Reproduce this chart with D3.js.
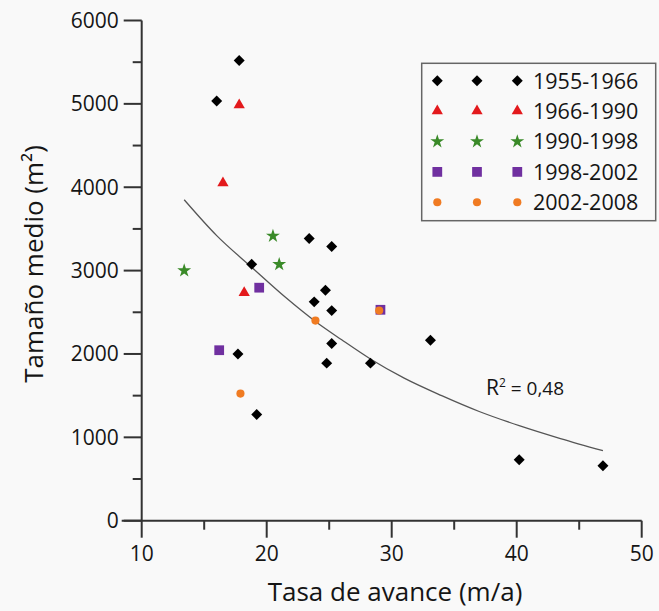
<!DOCTYPE html>
<html><head><meta charset="utf-8">
<script src="https://cdn.jsdelivr.net/npm/d3@7"></script>
<style>
html,body{margin:0;padding:0;background:#f9f9f9;}
svg{display:block;}
text{font-family:"Open Sans",sans-serif;fill:#151515;}
</style></head>
<body><svg id="c" width="659" height="611"></svg>
<script>
// ---- data ----
const seriesNames = ["1955-1966","1966-1990","1990-1998","1998-2002","2002-2008"];
const s1955 = [[17.8,5520],[16.0,5035],[18.8,3075],[23.4,3385],[25.2,3290],[24.7,2765],[23.8,2625],[25.2,2520],[25.2,2125],[24.8,1890],[28.3,1890],[17.7,2000],[19.2,1275],[33.1,2165],[40.2,730],[46.9,660]];
const s1966 = [[17.8,4985],[16.5,4050],[18.2,2735]];
const s1990 = [[13.4,3000],[20.5,3415],[21.0,3075]];
const s1998 = [[19.4,2795],[16.2,2045],[29.1,2530]];
const s2002 = [[23.9,2400],[17.9,1525],[29.0,2520]];
const trend = [[13.4,3850],[16,3420],[18.8,3040],[21.5,2680],[23.9,2390],[26,2170],[28.3,1940],[31,1710],[34,1500],[37,1310],[40.2,1140],[43.5,985],[46.9,840]];
const xTicks = [10,20,30,40,50];
const yTicks = [0,1000,2000,3000,4000,5000,6000];
const r2Label = "0,48";

const svg = d3.select("#c");
svg.append("rect").attr("width",659).attr("height",611).attr("fill","#f9f9f9");

const x = d3.scaleLinear().domain([10,50]).range([141.7,641.7]);
const y = d3.scaleLinear().domain([0,6000]).range([520.7,20.5]);
const axisColor = "#333";

// y axis
const gy = svg.append("g").attr("transform",`translate(${x(10)},0)`);
gy.append("line").attr("y1",y(0)).attr("y2",y(6000)).attr("stroke",axisColor).attr("stroke-width",2);
gy.selectAll(".maj").data(yTicks).join("line").attr("x1",-18).attr("x2",0)
  .attr("y1",d=>y(d)).attr("y2",d=>y(d)).attr("stroke",axisColor).attr("stroke-width",2);
gy.selectAll(".min").data(d3.range(500,6000,1000)).join("line").attr("x1",-9).attr("x2",0)
  .attr("y1",d=>y(d)).attr("y2",d=>y(d)).attr("stroke",axisColor).attr("stroke-width",2);
gy.selectAll("text").data(yTicks).join("text").attr("x",-23).attr("y",d=>y(d)+7.5)
  .attr("text-anchor","end").attr("font-size",21).text(d=>d);

// x axis
const gx = svg.append("g").attr("transform",`translate(0,${y(0)})`);
gx.append("line").attr("x1",x(10)-20).attr("x2",x(50)).attr("stroke",axisColor).attr("stroke-width",2);
gx.selectAll(".maj").data(xTicks).join("line").attr("y1",0).attr("y2",17)
  .attr("x1",d=>x(d)).attr("x2",d=>x(d)).attr("stroke",axisColor).attr("stroke-width",2);
gx.selectAll(".min").data([15,25,35,45]).join("line").attr("y1",0).attr("y2",9)
  .attr("x1",d=>x(d)).attr("x2",d=>x(d)).attr("stroke",axisColor).attr("stroke-width",2);
gx.selectAll("text").data(xTicks).join("text").attr("x",d=>x(d)).attr("y",40)
  .attr("text-anchor","middle").attr("font-size",21).text(d=>d);

// axis titles
svg.append("text").attr("x",395).attr("y",601).attr("text-anchor","middle")
  .attr("font-size",26).text("Tasa de avance (m/a)");
svg.append("text").attr("transform","translate(43,264) rotate(-90)").attr("text-anchor","middle")
  .attr("font-size",26).text("Tamaño medio (m²)");

// trend line
svg.append("path").datum(trend)
  .attr("d",d3.line().x(d=>x(d[0])).y(d=>y(d[1])).curve(d3.curveMonotoneX))
  .attr("fill","none").attr("stroke","#555").attr("stroke-width",1.3);

// R2 label
const rt = svg.append("text").attr("x",486).attr("y",395).attr("font-size",21);
rt.append("tspan").text("R");
rt.append("tspan").attr("font-size",12).attr("dy",-8).text("2");
rt.append("tspan").attr("font-size",19).attr("dy",8).text(" = " + r2Label);

// symbols
const styles = [
  {data:s1955, type:d3.symbolSquare, size:60, fill:"#000", rot:45},
  {data:s1966, type:d3.symbolTriangle, size:55, fill:"#e3191c", rot:0},
  {data:s1990, type:d3.symbolStar, size:60, fill:"#3a8a28", rot:0},
  {data:s1998, type:d3.symbolSquare, size:95, fill:"#7030a0", rot:0},
  {data:s2002, type:d3.symbolCircle, size:52, fill:"#f07b22", rot:0}
];
styles.forEach(st=>{
  const sym = d3.symbol().type(st.type).size(st.size);
  svg.append("g").selectAll("path").data(st.data).join("path")
    .attr("d",sym)
    .attr("transform",d=>`translate(${x(d[0])},${y(d[1])}) rotate(${st.rot})`)
    .attr("fill",st.fill);
});

// legend
const lg = svg.append("g");
lg.append("rect").attr("x",421.7).attr("y",63.3).attr("width",234).attr("height",157.4)
  .attr("fill","none").attr("stroke","#666").attr("stroke-width",1.5);
const rowY = d3.scalePoint().domain(seriesNames).range([80.7,202.3]);
const symX = [437.3,477,517.3];
seriesNames.forEach((n,i)=>{
  const st = styles[i];
  const sym = d3.symbol().type(st.type).size(st.size);
  symX.forEach(sx=>{
    lg.append("path").attr("d",sym)
      .attr("transform",`translate(${sx},${rowY(n)}) rotate(${st.rot})`).attr("fill",st.fill);
  });
  lg.append("text").attr("x",533).attr("y",rowY(n)+7.8).attr("font-size",21.5).text(n);
});
</script></body></html>
